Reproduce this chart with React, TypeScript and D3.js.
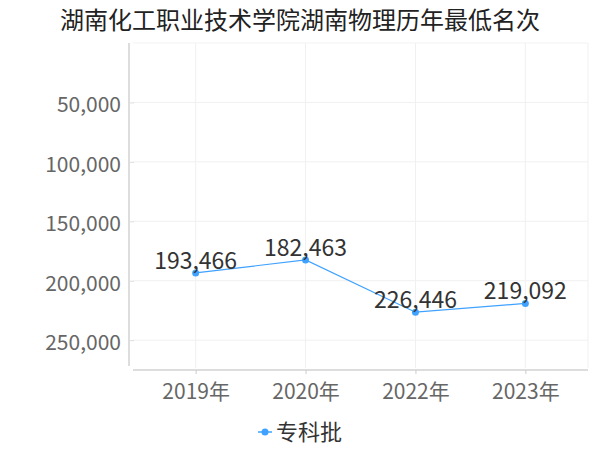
import { useRef, useEffect } from 'react'
import * as d3 from 'd3'

const years = ['2019年', '2020年', '2022年', '2023年']
const ranks = [193466, 182463, 226446, 219092]
const yTicks = [50000, 100000, 150000, 200000, 250000]
const seriesName = '专科批'
const title = '湖南化工职业技术学院湖南物理历年最低名次'

const FONT = '"Noto Sans CJK SC", "Noto Sans", sans-serif'
const LINE_COLOR = '#3fa2ff'

export default function App() {
  const svgRef = useRef<SVGSVGElement>(null)

  useEffect(() => {
    if (!svgRef.current) return
    const width = 600
    const height = 450
    const svg = d3.select(svgRef.current)
    svg.selectAll('*').remove()
    svg.attr('width', width).attr('height', height).style('font-family', FONT)

    const margin = { top: 43, right: 12, bottom: 82, left: 133 }
    const innerWidth = width - margin.left - margin.right
    const innerHeight = height - margin.top - margin.bottom

    const g = svg.append('g').attr('transform', `translate(${margin.left},${margin.top})`)

    const x = d3.scalePoint<string>().domain(years).range([0, innerWidth]).padding(0.57)
    const yMax = (d3.max(ranks) as number) * 1.2
    const y = d3.scaleLinear().domain([0, yMax]).range([0, innerHeight - 2])

    // Grid
    for (const t of yTicks) {
      g.append('line')
        .attr('x1', 0).attr('x2', innerWidth)
        .attr('y1', y(t)).attr('y2', y(t))
        .attr('stroke', '#f0f0f0')
    }
    g.append('line').attr('x1', 0).attr('x2', innerWidth).attr('y1', 0).attr('y2', 0).attr('stroke', '#f3f3f3')
    for (const c of years) {
      g.append('line')
        .attr('x1', x(c)!).attr('x2', x(c)!)
        .attr('y1', 0).attr('y2', innerHeight)
        .attr('stroke', '#f0f0f0')
    }
    g.append('line').attr('x1', innerWidth).attr('x2', innerWidth).attr('y1', 0).attr('y2', innerHeight).attr('stroke', '#f0f0f0')

    // Y axis
    g.append('g')
      .attr('transform', 'translate(-4,0)')
      .call(d3.axisLeft(y).tickValues(yTicks).tickSize(5).tickPadding(3).tickFormat((d) => d3.format(',')(d as number)))
      .call((a) => a.select('.domain').attr('d', `M0,0V${innerHeight - 2}`).attr('stroke', '#bbb'))
      .call((a) => a.selectAll('.tick line').attr('stroke', '#ddd').attr('x1', 0).attr('x2', 5))
      .call((a) => a.selectAll('text').attr('fill', '#666').attr('font-size', '21px').attr('dy', '0.45em').attr('font-family', FONT))

    // X axis
    g.append('g')
      .attr('transform', `translate(0,${innerHeight + 2})`)
      .call(d3.axisBottom(x).tickSize(4).tickPadding(10))
      .call((a) => a.select('.domain').attr('d', `M0,0H${innerWidth}`).attr('stroke', '#bbb'))
      .call((a) => a.selectAll('.tick line').attr('stroke', '#ccc'))
      .call((a) => a.selectAll('text').attr('fill', '#666').attr('font-size', '21px').attr('font-family', FONT))

    // Line
    const pts = years.map((c, i) => ({ c, v: ranks[i] }))
    const line = d3.line<{ c: string; v: number }>().x((d) => x(d.c)!).y((d) => y(d.v))
    g.append('path').datum(pts).attr('fill', 'none').attr('stroke', LINE_COLOR).attr('stroke-width', 1.2).attr('d', line)
    g.selectAll('.pt').data(pts).join('circle')
      .attr('cx', (d) => x(d.c)!).attr('cy', (d) => y(d.v)).attr('r', 3.5).attr('fill', LINE_COLOR)

    // Labels
    g.selectAll('.lbl').data(pts).join('text')
      .attr('x', (d) => x(d.c)!).attr('y', (d) => y(d.v) - 4)
      .attr('text-anchor', 'middle').attr('fill', '#333').attr('font-size', '23px')
      .text((d) => d3.format(',')(d.v))

    // Title
    svg.append('text').attr('x', width / 2).attr('y', 29).attr('text-anchor', 'middle')
      .attr('fill', '#222').attr('font-size', '24px').text(title)

    // Legend
    const lg = svg.append('g').attr('transform', 'translate(265,432)')
    lg.append('line').attr('x1', -7).attr('x2', 7).attr('y1', 0).attr('y2', 0).attr('stroke', LINE_COLOR).attr('stroke-width', 1.5)
    lg.append('circle').attr('r', 3.5).attr('fill', LINE_COLOR)
    lg.append('text').attr('x', 11).attr('y', 8).attr('fill', '#333').attr('font-size', '22px').text(seriesName)
  }, [])

  return (
    <div style={{ position: 'absolute', left: 0, top: 0 }}>
      <svg ref={svgRef} />
    </div>
  )
}
